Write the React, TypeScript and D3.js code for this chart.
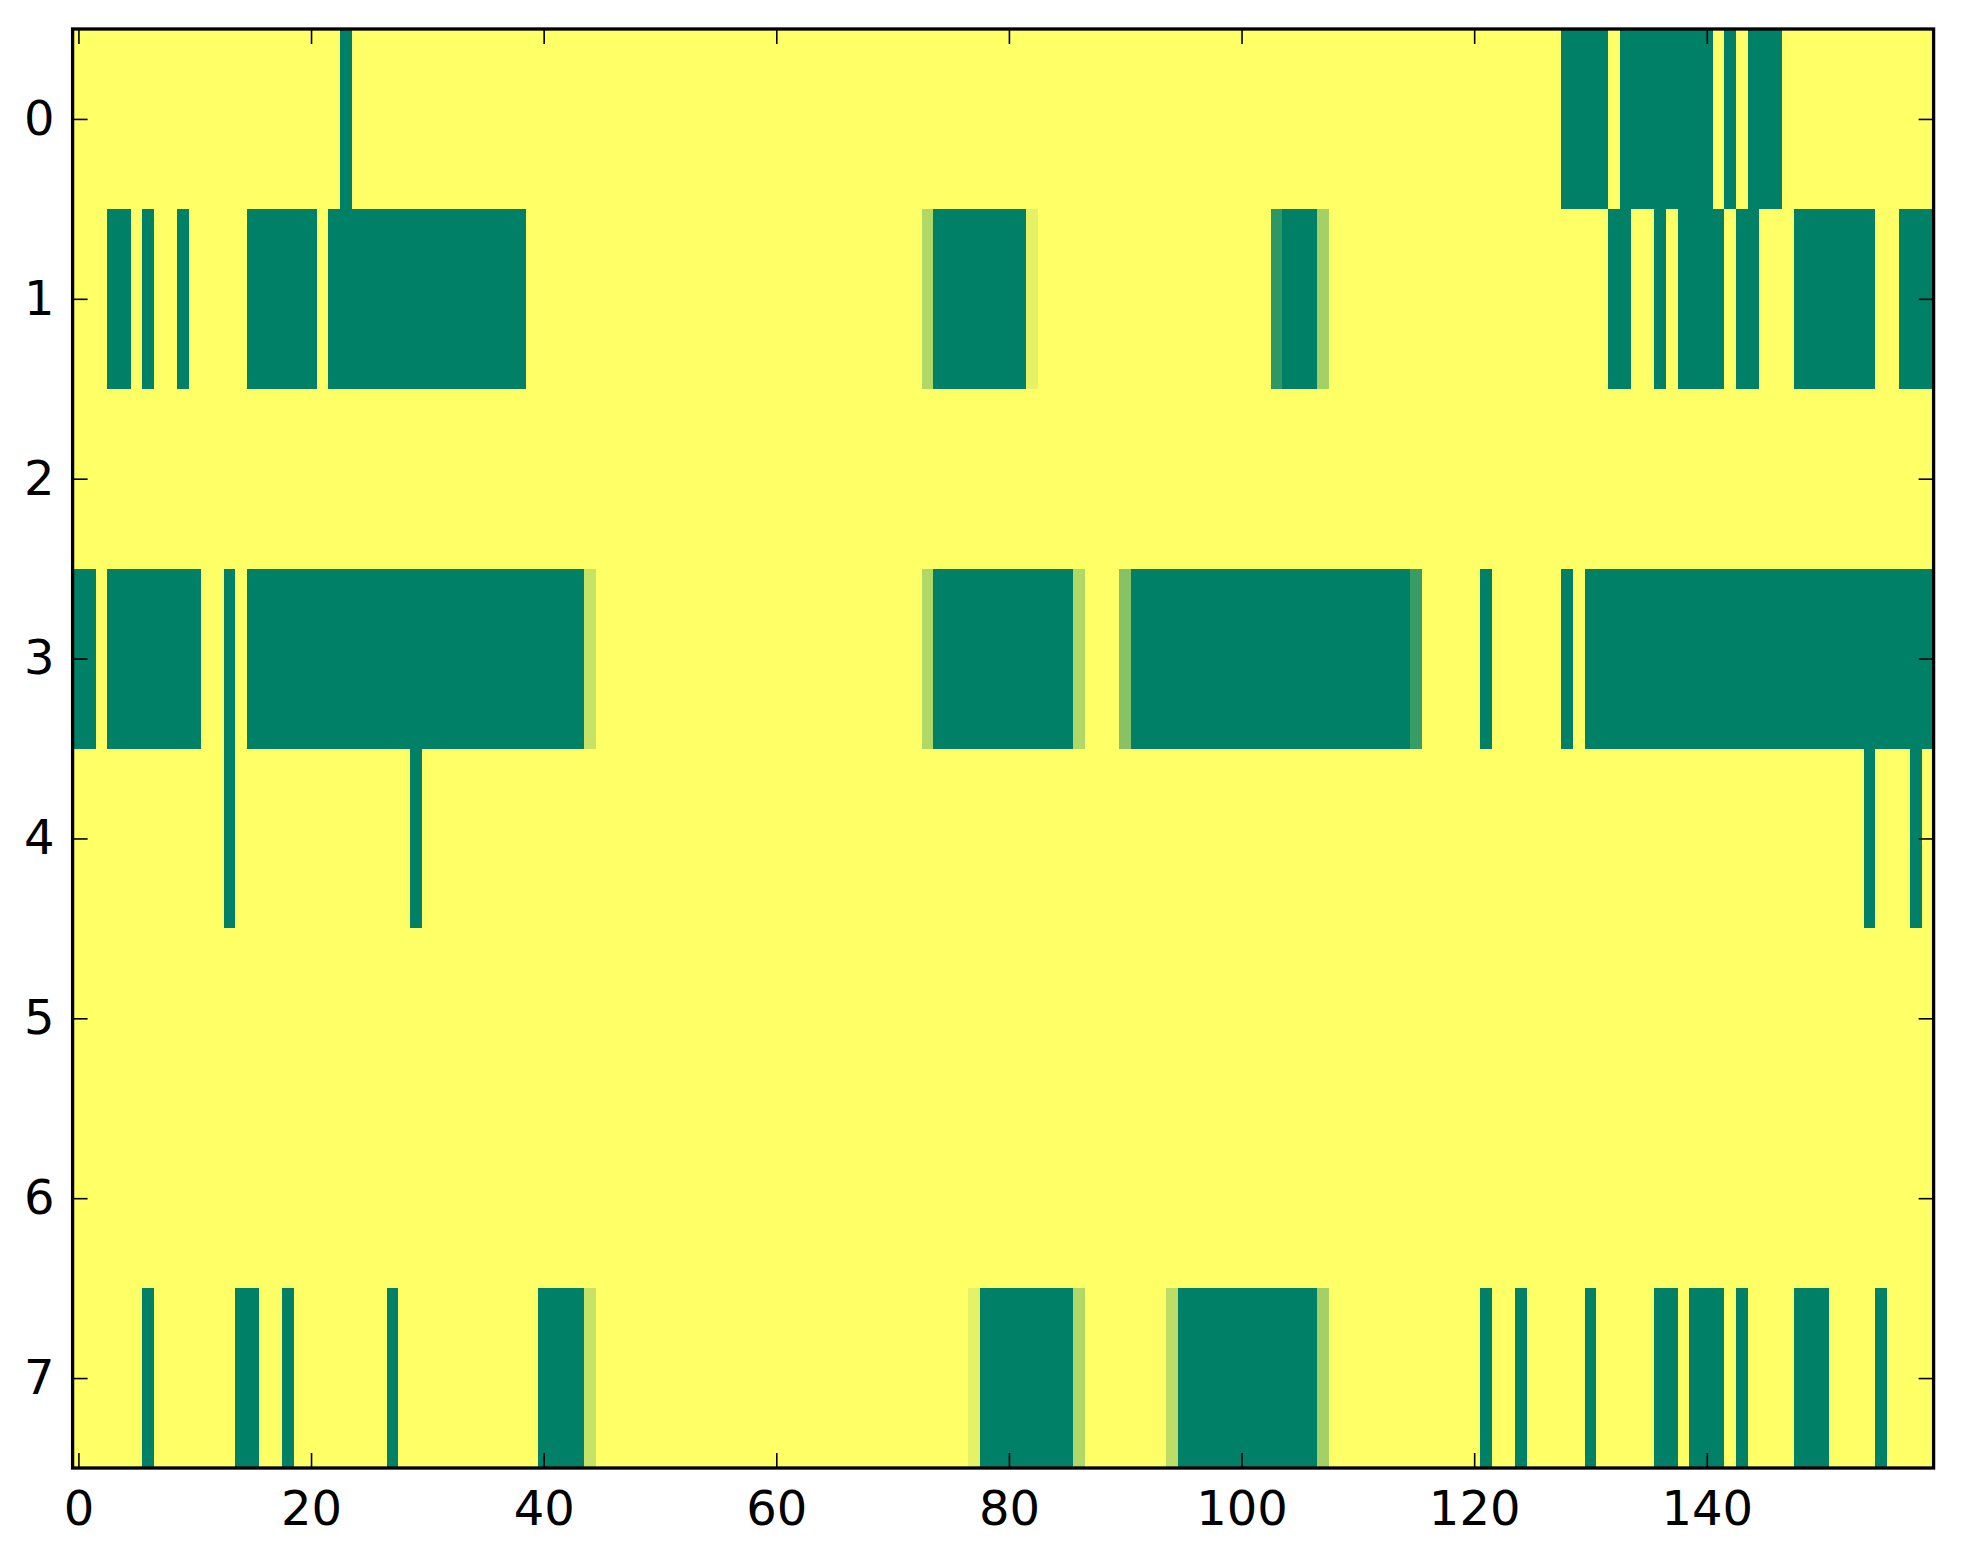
import React, { useEffect, useRef } from 'react';
import * as d3 from 'd3';

// runs of cells that are not at the top of the colour scale: [from, to, value]
type Run = [number, number, number];

const nCols = 160;
const rowLabels = [0, 1, 2, 3, 4, 5, 6, 7];
const xTicks = [0, 20, 40, 60, 80, 100, 120, 140];

const row0: Run[] = [[23, 23, 0], [128, 131, 0], [133, 140, 0], [142, 142, 0], [144, 146, 0]];
const row1: Run[] = [
  [3, 4, 0], [6, 6, 0], [9, 9, 0], [15, 20, 0], [22, 38, 0],
  [73, 73, 0.69], [74, 81, 0], [82, 82, 0.9],
  [103, 103, 0.18], [104, 106, 0], [107, 107, 0.64],
  [132, 133, 0], [136, 136, 0], [138, 141, 0], [143, 144, 0], [148, 154, 0], [157, 159, 0],
];
const row2: Run[] = [];
const row3: Run[] = [
  [0, 1, 0], [3, 10, 0], [13, 13, 0], [15, 43, 0], [44, 44, 0.78],
  [73, 73, 0.69], [74, 85, 0], [86, 86, 0.69],
  [90, 90, 0.53], [91, 114, 0], [115, 115, 0.22],
  [121, 121, 0], [128, 128, 0], [130, 159, 0],
];
const row4: Run[] = [[13, 13, 0], [29, 29, 0], [154, 154, 0], [158, 158, 0]];
const row5: Run[] = [];
const row6: Run[] = [];
const row7: Run[] = [
  [6, 6, 0], [14, 15, 0], [18, 18, 0], [27, 27, 0], [40, 43, 0], [44, 44, 0.78],
  [77, 77, 0.9], [78, 85, 0], [86, 86, 0.69],
  [94, 94, 0.74], [95, 106, 0], [107, 107, 0.64],
  [121, 121, 0], [124, 124, 0], [130, 130, 0], [136, 137, 0], [139, 141, 0], [143, 143, 0],
  [148, 150, 0], [155, 155, 0],
];

const rows = [row0, row1, row2, row3, row4, row5, row6, row7];

interface ICell {
  row: number;
  col: number;
  value: number;
}

const buildCells = (): ICell[] => {
  const cells: ICell[] = [];
  rows.forEach((runs, row) => {
    const values = new Array(nCols).fill(1);
    runs.forEach(([from, to, v]) => {
      for (let c = from; c <= to; c++) values[c] = v;
    });
    values.forEach((value, col) => cells.push({ row, col, value }));
  });
  return cells;
};

const drawChart = (container: SVGSVGElement) => {
  const width = 1963;
  const height = 1564;
  const left = 72.6;
  const right = 1933.6;
  const top = 29;
  const bottom = 1468;
  const tickLen = 15;
  const font = '"DejaVu Sans", sans-serif';

  const svg = d3.select(container);
  svg.selectAll('*').remove();
  svg.attr('width', width).attr('height', height);

  svg.append('rect').attr('width', width).attr('height', height).attr('fill', 'white');

  const xScale = d3.scaleLinear().domain([-0.5, nCols - 0.5]).range([left, right]);
  const yScale = d3.scaleLinear().domain([-0.5, rowLabels.length - 0.5]).range([top, bottom]);
  const color = d3.scaleLinear<string>().domain([0, 1]).range(['#008066', '#ffff66']).interpolate(d3.interpolateRgb);

  svg
    .append('g')
    .attr('shape-rendering', 'crispEdges')
    .selectAll('rect')
    .data(buildCells())
    .enter()
    .append('rect')
    .attr('x', (d) => xScale(d.col - 0.5))
    .attr('y', (d) => yScale(d.row - 0.5))
    .attr('width', (d) => xScale(d.col + 0.5) - xScale(d.col - 0.5) + 0.5)
    .attr('height', (d) => yScale(d.row + 0.5) - yScale(d.row - 0.5) + 0.5)
    .attr('fill', (d) => color(d.value));

  const xAxisB = svg.append('g').attr('transform', `translate(0, ${bottom})`);
  xAxisB.call(d3.axisBottom(xScale).tickValues(xTicks).tickSize(-tickLen));
  const xAxisT = svg.append('g').attr('transform', `translate(0, ${top})`);
  xAxisT.call(d3.axisTop(xScale).tickValues(xTicks).tickSize(-tickLen).tickFormat(() => ''));
  const yAxisL = svg.append('g').attr('transform', `translate(${left}, 0)`);
  yAxisL.call(d3.axisLeft(yScale).tickValues(rowLabels).tickSize(-tickLen).tickPadding(18));
  const yAxisR = svg.append('g').attr('transform', `translate(${right}, 0)`);
  yAxisR.call(d3.axisRight(yScale).tickValues(rowLabels).tickSize(-tickLen).tickFormat(() => ''));

  svg.selectAll('.domain').remove();
  svg.selectAll('.tick line').attr('stroke', 'black').attr('stroke-width', 1.6);
  svg.selectAll('.tick text').attr('fill', 'black').style('font-family', font).style('font-size', '48px');
  xAxisB.selectAll('.tick text').attr('dy', null).attr('y', 57);

  svg
    .append('rect')
    .attr('x', left)
    .attr('y', top)
    .attr('width', right - left)
    .attr('height', bottom - top)
    .attr('fill', 'none')
    .attr('stroke', 'black')
    .attr('stroke-width', 3.3);
};

const App: React.FC = () => {
  const svgRef = useRef<SVGSVGElement>(null);

  useEffect(() => {
    document.body.style.margin = '0';
    if (svgRef.current) drawChart(svgRef.current);
  }, []);

  return <svg ref={svgRef} style={{ display: 'block' }}></svg>;
};

export default App;
